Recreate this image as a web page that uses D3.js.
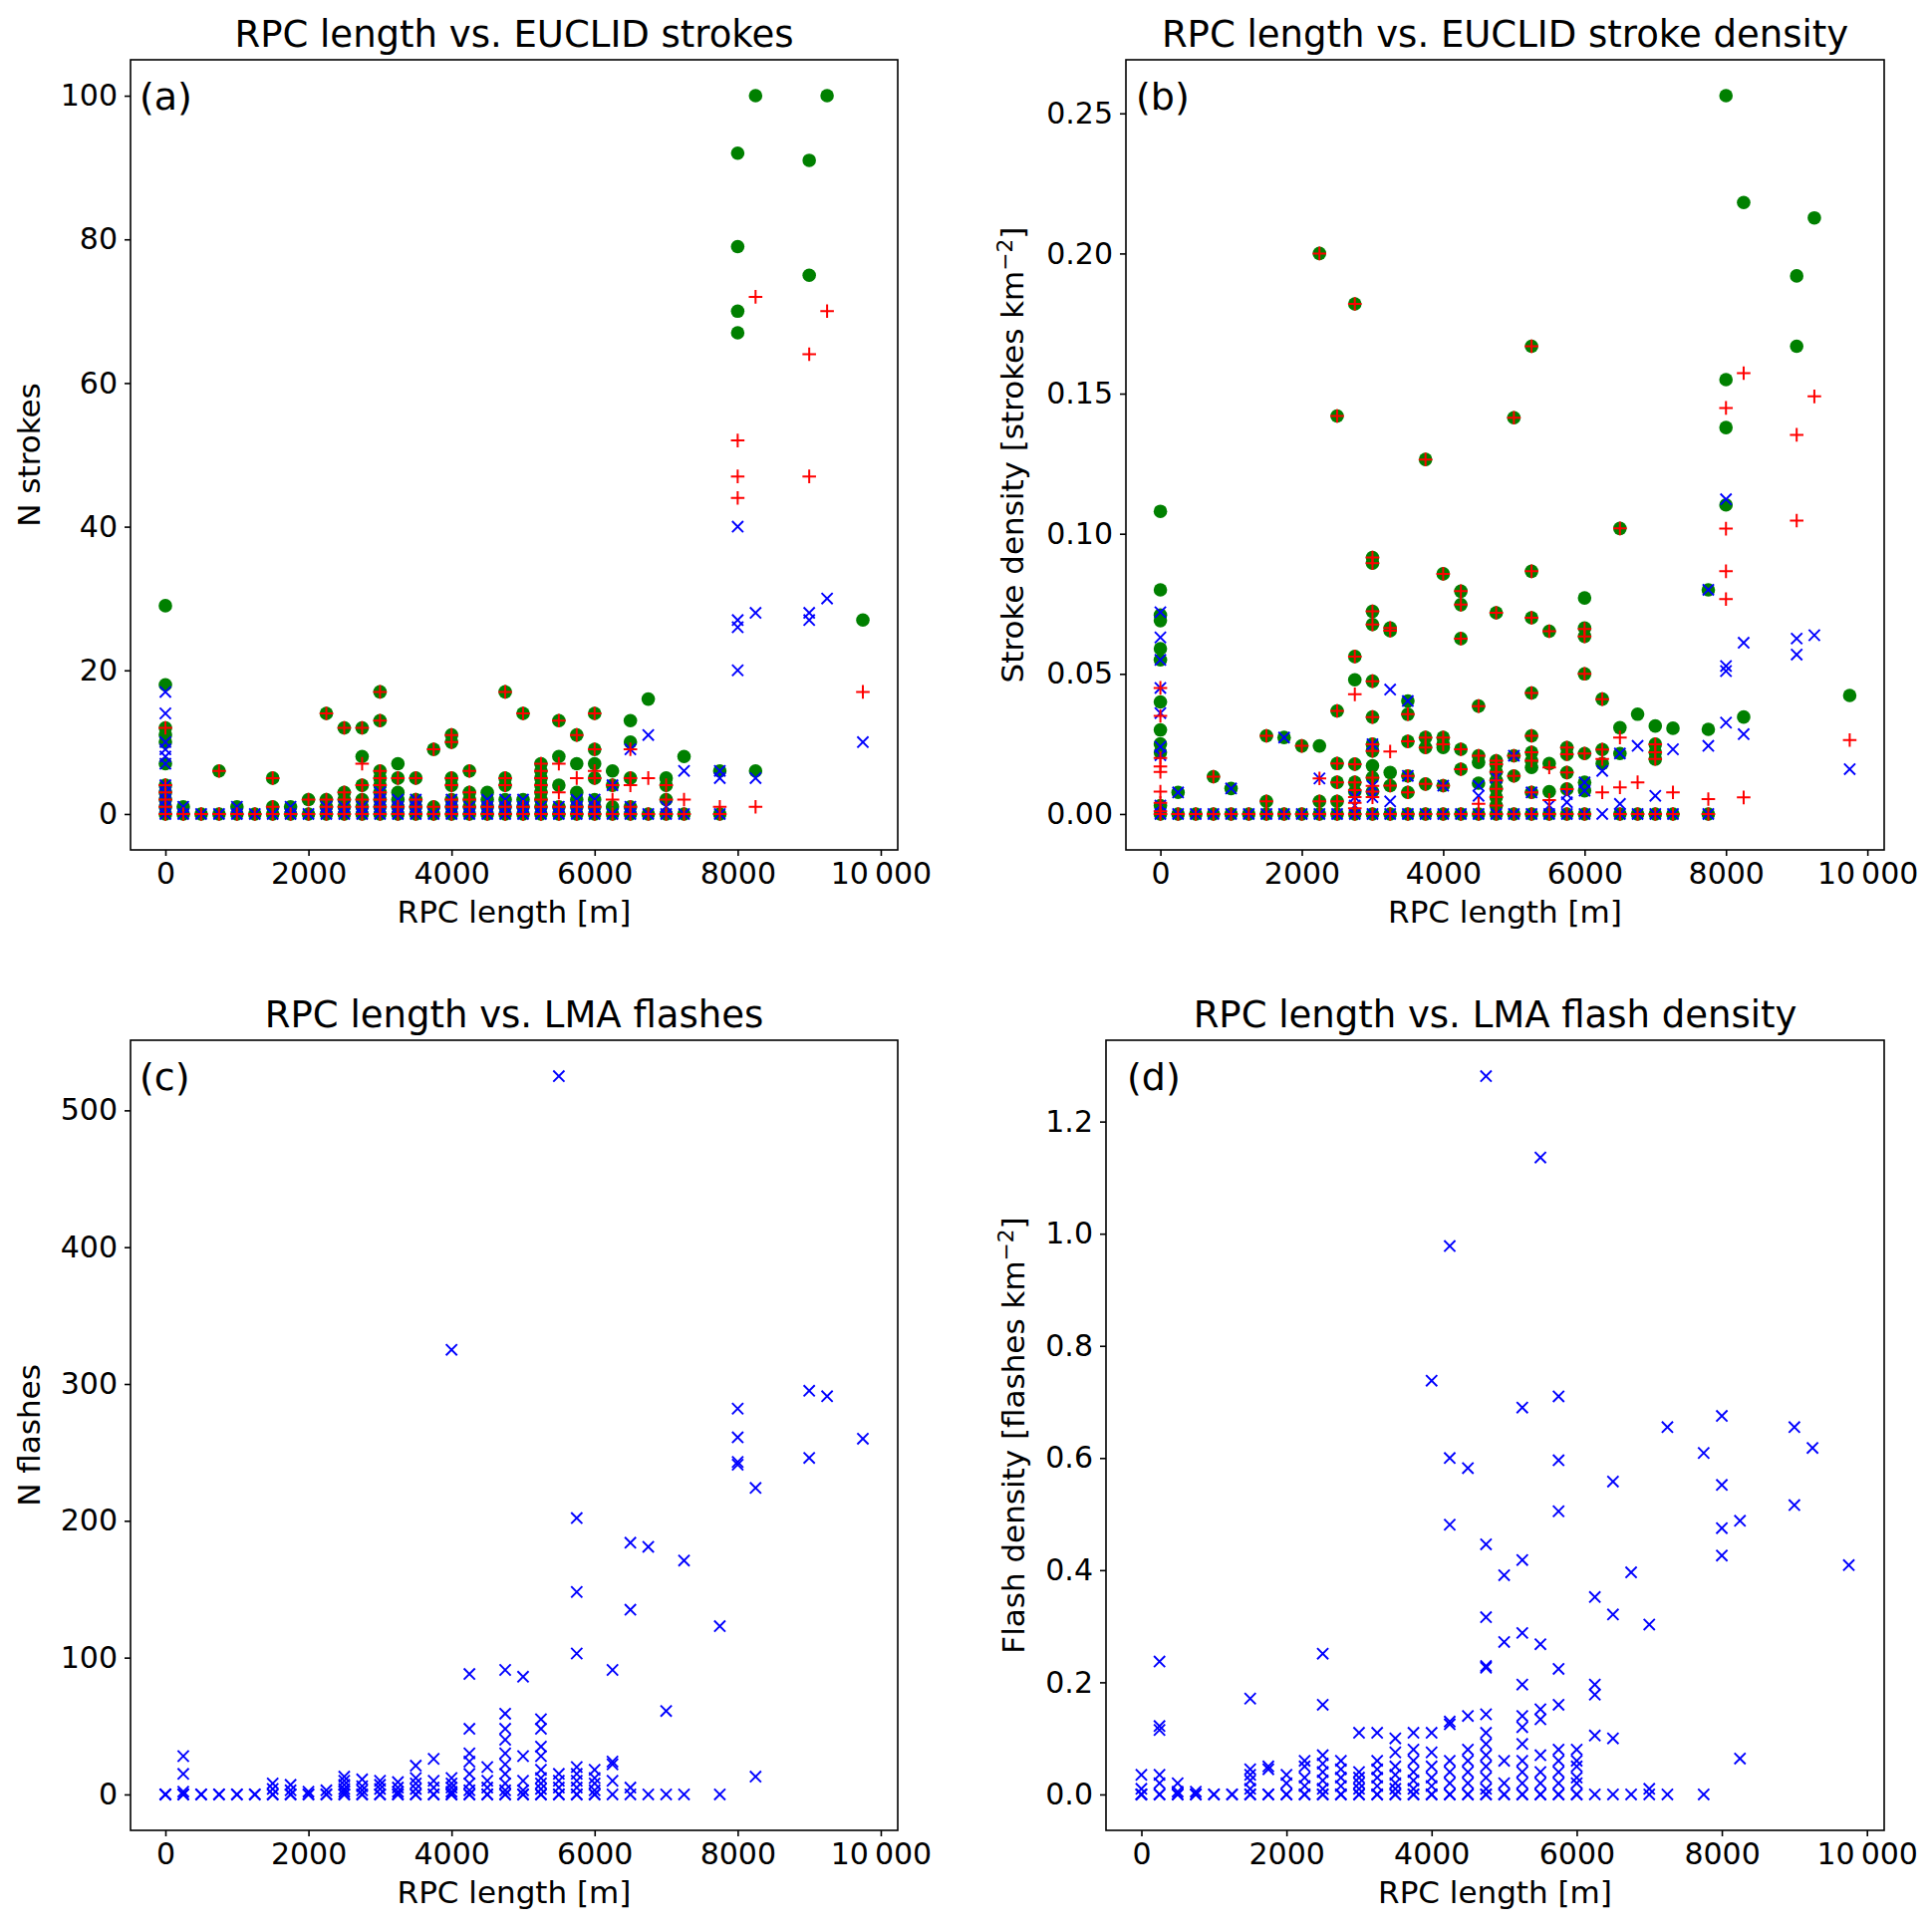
<!DOCTYPE html>
<html>
<head>
<meta charset="utf-8">
<script src="https://cdn.jsdelivr.net/npm/d3@7"></script>
<style>
  html, body { margin: 0; padding: 0; background: #fff; }
  svg { display: block; }
  text { font-family: "DejaVu Sans", sans-serif; fill: #000; }
</style>
</head>
<body>
<svg id="chart" width="1939" height="1935"></svg>
<script>
// ---------------- DATA ----------------
// Each entry: [RPC length (m), value]
// Panel (a): N strokes – total (green), CG (red), IC (blue)
const strokesTotal = [
  [0,29],[0,18],[0,12],[0,11],[0,10],[0,7],[0,4],[0,3],[0,2],[0,1],[0,0],
  [250,1],[250,0],[500,0],[750,6],[750,0],[1000,1],[1000,0],[1250,0],
  [1500,5],[1500,1],[1500,0],[1750,1],[1750,0],[2000,2],[2000,0],
  [2250,14],[2250,2],[2250,1],[2250,0],
  [2500,12],[2500,3],[2500,2],[2500,1],[2500,0],
  [2750,12],[2750,8],[2750,4],[2750,2],[2750,1],[2750,0],
  [3000,17],[3000,13],[3000,6],[3000,5],[3000,4],[3000,3],[3000,2],[3000,1],[3000,0],
  [3250,7],[3250,5],[3250,3],[3250,2],[3250,1],[3250,0],
  [3500,5],[3500,2],[3500,1],[3500,0],
  [3750,9],[3750,1],[3750,0],
  [4000,11],[4000,10],[4000,5],[4000,4],[4000,2],[4000,1],[4000,0],
  [4250,6],[4250,3],[4250,2],[4250,1],[4250,0],
  [4500,3],[4500,2],[4500,1],[4500,0],
  [4750,17],[4750,5],[4750,4],[4750,2],[4750,1],[4750,0],
  [5000,14],[5000,2],[5000,1],[5000,0],
  [5250,7],[5250,6],[5250,5],[5250,4],[5250,3],[5250,2],[5250,1],[5250,0],
  [5500,13],[5500,8],[5500,4],[5500,1],[5500,0],
  [5750,11],[5750,7],[5750,3],[5750,2],[5750,1],[5750,0],
  [6000,14],[6000,9],[6000,7],[6000,5],[6000,2],[6000,1],[6000,0],
  [6250,6],[6250,4],[6250,1],[6250,0],
  [6500,13],[6500,10],[6500,5],[6500,1],[6500,0],
  [6750,16],[6750,0],
  [7000,5],[7000,4],[7000,2],[7000,0],
  [7250,8],[7250,0],
  [7750,6],[7750,0],
  [8000,92],[8000,79],[8000,70],[8000,67],
  [8250,100],[8250,6],
  [9000,91],[9000,75],
  [9250,100],
  [9750,27]
];
const strokesCG = [
  [0,12],[0,4],[0,3],[0,2],[0,1],[0,0],
  [250,0],[500,0],[750,6],[750,0],[1000,0],[1250,0],
  [1500,5],[1500,1],[1500,0],[1750,0],[2000,2],[2000,0],
  [2250,14],[2250,2],[2250,1],[2250,0],
  [2500,12],[2500,3],[2500,2],[2500,1],[2500,0],
  [2750,12],[2750,7],[2750,4],[2750,2],[2750,1],[2750,0],
  [3000,17],[3000,13],[3000,6],[3000,5],[3000,4],[3000,3],[3000,2],[3000,1],[3000,0],
  [3250,5],[3250,1],[3250,0],
  [3500,5],[3500,2],[3500,1],[3500,0],
  [3750,9],[3750,1],[3750,0],
  [4000,11],[4000,10],[4000,5],[4000,4],[4000,2],[4000,1],[4000,0],
  [4250,6],[4250,3],[4250,2],[4250,1],[4250,0],
  [4500,1],[4500,0],
  [4750,17],[4750,5],[4750,4],[4750,1],[4750,0],
  [5000,14],[5000,1],[5000,0],
  [5250,7],[5250,6],[5250,5],[5250,4],[5250,3],[5250,2],[5250,1],[5250,0],
  [5500,13],[5500,7],[5500,3],[5500,1],[5500,0],
  [5750,11],[5750,5],[5750,1],[5750,0],
  [6000,14],[6000,9],[6000,6],[6000,5],[6000,1],[6000,0],
  [6250,4],[6250,2],[6250,0],
  [6500,9],[6500,5],[6500,4],[6500,1],[6500,0],
  [6750,5],[6750,0],
  [7000,4],[7000,2],[7000,0],
  [7250,2],[7250,0],
  [7750,1],[7750,0],
  [8000,52],[8000,47],[8000,44],
  [8250,72],[8250,1],
  [9000,64],[9000,47],
  [9250,70],
  [9750,17]
];
const strokesIC = [
  [0,17],[0,14],[0,10],[0,9],[0,8],[0,7],[0,4],[0,3],[0,2],[0,1],[0,0],
  [250,1],[250,0],[500,0],[750,0],[1000,1],[1000,0],[1250,0],[1500,0],
  [1750,1],[1750,0],[2000,0],[2250,1],[2250,0],[2500,1],[2500,0],[2750,1],[2750,0],
  [3000,3],[3000,2],[3000,1],[3000,0],
  [3250,2],[3250,1],[3250,0],
  [3500,2],[3500,1],[3500,0],
  [3750,0],
  [4000,2],[4000,1],[4000,0],
  [4250,1],[4250,0],
  [4500,2],[4500,1],[4500,0],
  [4750,2],[4750,1],[4750,0],
  [5000,2],[5000,1],[5000,0],
  [5250,1],[5250,0],
  [5500,1],[5500,0],
  [5750,2],[5750,1],[5750,0],
  [6000,2],[6000,1],[6000,0],
  [6250,4],[6250,0],
  [6500,9],[6500,1],[6500,0],
  [6750,11],[6750,0],
  [7000,1],[7000,0],
  [7250,6],[7250,0],
  [7750,6],[7750,5],[7750,0],
  [8000,40],[8000,27],[8000,26],[8000,20],
  [8250,28],[8250,5],
  [9000,28],[9000,27],
  [9250,30],
  [9750,10]
];

// Panel (b): stroke density [strokes km^-2]
const densityTotal = [
  [0,0.108],[0,0.080],[0,0.071],[0,0.069],[0,0.059],[0,0.055],[0,0.040],[0,0.030],[0,0.025],[0,0.022],[0,0.003],[0,0],
  [250,0.0077],[250,0],[500,0],[750,0.0133],[750,0],[1000,0.0091],[1000,0],[1250,0],
  [1500,0.0279],[1500,0.0045],[1500,0],[1750,0.0273],[1750,0],[2000,0.0243],[2000,0],
  [2250,0.200],[2250,0.0243],[2250,0.0045],[2250,0],
  [2500,0.142],[2500,0.0368],[2500,0.018],[2500,0.0113],[2500,0.0045],[2500,0],
  [2750,0.182],[2750,0.0562],[2750,0.0479],[2750,0.0178],[2750,0.0113],[2750,0.008],[2750,0],
  [3000,0.0915],[3000,0.0895],[3000,0.0723],[3000,0.0676],[3000,0.0474],[3000,0.0346],[3000,0.0249],[3000,0.0225],[3000,0.0172],[3000,0.013],[3000,0.008],[3000,0],
  [3250,0.0664],[3250,0.0654],[3250,0.0148],[3250,0.0101],[3250,0],
  [3500,0.0403],[3500,0.0356],[3500,0.0259],[3500,0.0136],[3500,0.0077],[3500,0],
  [3750,0.1265],[3750,0.0273],[3750,0.0237],[3750,0.0107],[3750,0],
  [4000,0.0857],[4000,0.0273],[4000,0.0249],[4000,0.0237],[4000,0.0101],[4000,0],
  [4250,0.0795],[4250,0.0747],[4250,0.0626],[4250,0.0231],[4250,0.016],[4250,0],
  [4500,0.0385],[4500,0.0208],[4500,0.0184],[4500,0.011],[4500,0],
  [4750,0.0718],[4750,0.019],[4750,0.0178],[4750,0.015],[4750,0.012],[4750,0.009],[4750,0.006],[4750,0.003],[4750,0],
  [5000,0.1414],[5000,0.0208],[5000,0.0136],[5000,0],
  [5250,0.1669],[5250,0.0866],[5250,0.0700],[5250,0.0432],[5250,0.0279],[5250,0.022],[5250,0.019],[5250,0.0166],[5250,0.0077],[5250,0],
  [5500,0.0652],[5500,0.018],[5500,0.008],[5500,0],
  [5750,0.0237],[5750,0.0213],[5750,0.0148],[5750,0.0089],[5750,0],
  [6000,0.0771],[6000,0.0664],[6000,0.0634],[6000,0.0500],[6000,0.0216],[6000,0.0113],[6000,0.0083],[6000,0],
  [6250,0.041],[6250,0.023],[6250,0.018],
  [6500,0.1019],[6500,0.0308],[6500,0.0216],[6500,0],
  [6750,0.0356],[6750,0],
  [7000,0.0314],[7000,0.0249],[7000,0.022],[7000,0.0196],[7000,0],
  [7250,0.0306],[7250,0],
  [7750,0.080],[7750,0.0302],[7750,0],
  [8000,0.2563],[8000,0.155],[8000,0.1379],[8000,0.1103],
  [8250,0.2182],[8250,0.0346],
  [9000,0.192],[9000,0.1669],
  [9250,0.2127],
  [9750,0.0423]
];
const densityCG = [
  [0,0.045],[0,0.035],[0,0.020],[0,0.017],[0,0.015],[0,0.008],[0,0.004],[0,0.001],[0,0],
  [250,0],[500,0],[750,0.0133],[750,0],[1000,0],[1250,0],
  [1500,0.0279],[1500,0.0045],[1500,0],[1750,0],[2000,0.0243],[2000,0],
  [2250,0.200],[2250,0.0127],[2250,0.0045],[2250,0],
  [2500,0.142],[2500,0.0368],[2500,0.018],[2500,0.0113],[2500,0.0045],[2500,0],
  [2750,0.182],[2750,0.0562],[2750,0.0427],[2750,0.0178],[2750,0.0113],[2750,0.0085],[2750,0.006],[2750,0.004],[2750,0.002],[2750,0],
  [3000,0.0915],[3000,0.0895],[3000,0.0723],[3000,0.0676],[3000,0.0474],[3000,0.0346],[3000,0.0249],[3000,0.0225],[3000,0.013],[3000,0.010],[3000,0.008],[3000,0.006],[3000,0],
  [3250,0.0664],[3250,0.0654],[3250,0.0223],[3250,0.0101],[3250,0],
  [3500,0.0356],[3500,0.0259],[3500,0.0136],[3500,0.0077],[3500,0],
  [3750,0.1265],[3750,0.0273],[3750,0.0237],[3750,0.0107],[3750,0],
  [4000,0.0857],[4000,0.0273],[4000,0.0249],[4000,0.0101],[4000,0],
  [4250,0.0795],[4250,0.0747],[4250,0.0626],[4250,0.0231],[4250,0.016],[4250,0],
  [4500,0.0385],[4500,0.0208],[4500,0.0036],[4500,0],
  [4750,0.0718],[4750,0.019],[4750,0.0178],[4750,0.015],[4750,0.012],[4750,0.009],[4750,0.006],[4750,0.003],[4750,0],
  [5000,0.1414],[5000,0.0208],[5000,0.0136],[5000,0],
  [5250,0.1669],[5250,0.0866],[5250,0.0700],[5250,0.0432],[5250,0.0279],[5250,0.022],[5250,0.019],[5250,0.0077],[5250,0],
  [5500,0.0652],[5500,0.0166],[5500,0.005],[5500,0],
  [5750,0.0237],[5750,0.0213],[5750,0.0148],[5750,0.0089],[5750,0],
  [6000,0.066],[6000,0.0634],[6000,0.0500],[6000,0.0216],[6000,0],
  [6250,0.041],[6250,0.023],[6250,0.0196],[6250,0.0077],
  [6500,0.1019],[6500,0.0273],[6500,0.0095],[6500,0],
  [6750,0.0113],[6750,0],
  [7000,0.0249],[7000,0.022],[7000,0.0196],[7000,0],
  [7250,0.0077],[7250,0],
  [7750,0.0053],[7750,0],
  [8000,0.1449],[8000,0.1018],[8000,0.0866],[8000,0.0767],
  [8250,0.1573],[8250,0.0059],
  [9000,0.1353],[9000,0.1047],
  [9250,0.149],
  [9750,0.0264]
];
const densityIC = [
  [0,0.072],[0,0.063],[0,0.055],[0,0.045],[0,0.036],[0,0.024],[0,0.021],[0,0.003],[0,0],
  [250,0.0077],[250,0],[500,0],[750,0],[1000,0.0091],[1000,0],[1250,0],[1500,0],
  [1750,0.0273],[1750,0],[2000,0],[2250,0.0127],[2250,0],[2500,0],
  [2750,0.006],[2750,0.003],[2750,0],
  [3000,0.0249],[3000,0.010],[3000,0.006],[3000,0],
  [3250,0.0444],[3250,0.0045],[3250,0],
  [3500,0.0403],[3500,0.0136],[3500,0],
  [3750,0],[4000,0.0101],[4000,0],[4250,0],
  [4500,0.0101],[4500,0.0065],[4500,0],
  [4750,0.013],[4750,0],
  [5000,0.0208],[5000,0],
  [5250,0.0077],[5250,0],
  [5500,0.003],[5500,0],
  [5750,0.0071],[5750,0.0042],[5750,0],
  [6000,0.0113],[6000,0.0083],[6000,0],
  [6250,0.0154],[6250,0],
  [6500,0.0216],[6500,0.0036],[6500,0],
  [6750,0.0243],[6750,0],
  [7000,0.0065],[7000,0],
  [7250,0.0231],[7250,0],
  [7750,0.080],[7750,0.0243],[7750,0],
  [8000,0.1123],[8000,0.0528],[8000,0.051],[8000,0.0326],
  [8250,0.0611],[8250,0.0285],
  [9000,0.0626],[9000,0.0569],
  [9250,0.0638],
  [9750,0.016]
];

// Panel (c): N LMA flashes (repeated zeros = several cases without flashes)
const lmaFlashes = [
  [0,0],[0,0],[0,0],[250,28],[250,15],[250,2],[250,0],[250,0],[500,0],[500,0],[750,0],[750,0],
  [1000,0],[1000,0],[1250,0],[1250,0],
  [1500,8],[1500,4],[1500,0],[1500,0],[1750,7],[1750,3],[1750,0],[1750,0],[2000,2],[2000,0],[2000,0],[2250,3],[2250,0],[2250,0],
  [2500,13],[2500,10],[2500,7],[2500,4],[2500,2],[2500,0],[2500,0],
  [2750,11],[2750,6],[2750,3],[2750,0],[2750,0],
  [3000,10],[3000,7],[3000,4],[3000,0],[3000,0],
  [3250,9],[3250,5],[3250,2],[3250,0],[3250,0],
  [3500,21],[3500,12],[3500,8],[3500,4],[3500,0],[3500,0],
  [3750,26],[3750,10],[3750,5],[3750,0],[3750,0],
  [4000,325],[4000,12],[4000,8],[4000,5],[4000,2],[4000,0],[4000,0],
  [4250,88],[4250,48],[4250,30],[4250,24],[4250,15],[4250,8],[4250,3],[4250,0],[4250,0],
  [4500,20],[4500,10],[4500,5],[4500,0],[4500,0],
  [4750,91],[4750,59],[4750,48],[4750,40],[4750,30],[4750,22],[4750,15],[4750,8],[4750,3],[4750,0],[4750,0],
  [5000,86],[5000,28],[5000,10],[5000,3],[5000,0],[5000,0],
  [5250,55],[5250,48],[5250,35],[5250,28],[5250,18],[5250,12],[5250,8],[5250,4],[5250,0],[5250,0],
  [5500,525],[5500,15],[5500,10],[5500,5],[5500,0],[5500,0],
  [5750,202],[5750,148],[5750,103],[5750,20],[5750,15],[5750,10],[5750,5],[5750,0],[5750,0],
  [6000,18],[6000,12],[6000,8],[6000,3],[6000,0],[6000,0],
  [6250,91],[6250,24],[6250,22],[6250,10],[6250,0],
  [6500,184],[6500,135],[6500,5],[6500,0],
  [6750,181],[6750,0],
  [7000,61],[7000,0],
  [7250,171],[7250,0],
  [7750,123],[7750,0],
  [8000,282],[8000,261],[8000,243],[8000,241],
  [8250,224],[8250,13],
  [9000,295],[9000,246],
  [9250,291],
  [9750,260]
];

// Panel (d): LMA flash density [flashes km^-2]
const lmaDensity = [
  [0,0.035],[0,0.01],[0,0],[0,0],[0,0],
  [250,0.237],[250,0.122],[250,0.115],[250,0.035],[250,0.02],[250,0],[250,0],
  [500,0.02],[500,0.005],[500,0],[500,0],[750,0.005],[750,0],[750,0],[1000,0],[1000,0],[1250,0],[1250,0],
  [1500,0.171],[1500,0.045],[1500,0.035],[1500,0.025],[1500,0.01],[1500,0],[1500,0],
  [1750,0.05],[1750,0.045],[1750,0],[1750,0],
  [2000,0.035],[2000,0.02],[2000,0],[2000,0],
  [2250,0.06],[2250,0.05],[2250,0.03],[2250,0.015],[2250,0],[2250,0],
  [2500,0.251],[2500,0.160],[2500,0.07],[2500,0.055],[2500,0.04],[2500,0.025],[2500,0.01],[2500,0],[2500,0],
  [2750,0.06],[2750,0.045],[2750,0.03],[2750,0.015],[2750,0],[2750,0],
  [3000,0.11],[3000,0.04],[3000,0.03],[3000,0.02],[3000,0.01],[3000,0],[3000,0],
  [3250,0.11],[3250,0.06],[3250,0.045],[3250,0.03],[3250,0.015],[3250,0],[3250,0],
  [3500,0.1],[3500,0.075],[3500,0.05],[3500,0.035],[3500,0.02],[3500,0.01],[3500,0],[3500,0],
  [3750,0.11],[3750,0.08],[3750,0.06],[3750,0.04],[3750,0.025],[3750,0.01],[3750,0],[3750,0],
  [4000,0.738],[4000,0.11],[4000,0.075],[4000,0.05],[4000,0.03],[4000,0.015],[4000,0],[4000,0],
  [4250,0.978],[4250,0.600],[4250,0.481],[4250,0.13],[4250,0.125],[4250,0.06],[4250,0.04],[4250,0.02],[4250,0],[4250,0],
  [4500,0.582],[4500,0.14],[4500,0.08],[4500,0.06],[4500,0.04],[4500,0.02],[4500,0],[4500,0],
  [4750,1.281],[4750,0.446],[4750,0.316],[4750,0.229],[4750,0.226],[4750,0.143],[4750,0.11],[4750,0.09],[4750,0.07],[4750,0.05],[4750,0.03],[4750,0.01],[4750,0],[4750,0],
  [5000,0.391],[5000,0.272],[5000,0.06],[5000,0.02],[5000,0],[5000,0],
  [5250,0.690],[5250,0.418],[5250,0.288],[5250,0.196],[5250,0.14],[5250,0.12],[5250,0.09],[5250,0.06],[5250,0.04],[5250,0.02],[5250,0],[5250,0],
  [5500,1.136],[5500,0.268],[5500,0.152],[5500,0.134],[5500,0.07],[5500,0.04],[5500,0.02],[5500,0],[5500,0],
  [5750,0.710],[5750,0.596],[5750,0.505],[5750,0.224],[5750,0.160],[5750,0.08],[5750,0.06],[5750,0.04],[5750,0.02],[5750,0],[5750,0],
  [6000,0.08],[6000,0.06],[6000,0.05],[6000,0.03],[6000,0.02],[6000,0],[6000,0],
  [6250,0.352],[6250,0.196],[6250,0.178],[6250,0.105],[6250,0],
  [6500,0.558],[6500,0.321],[6500,0.1],[6500,0],
  [6750,0.396],[6750,0],
  [7000,0.303],[7000,0.01],[7000,0],
  [7250,0.655],[7250,0],
  [7750,0.609],[7750,0],
  [8000,0.675],[8000,0.552],[8000,0.475],[8000,0.426],
  [8250,0.488],[8250,0.064],
  [9000,0.655],[9000,0.516],
  [9250,0.618],
  [9750,0.409]
];

// Tick values and labels
const xTickValues = [0, 2000, 4000, 6000, 8000, 10000];
const xTickLabels = ["0", "2000", "4000", "6000", "8000", "10\u2009000"];
const yTicksA = [0, 20, 40, 60, 80, 100];
const yTicksB = [0, 0.05, 0.10, 0.15, 0.20, 0.25];
const yTicksC = [0, 100, 200, 300, 400, 500];
const yTicksD = [0, 0.2, 0.4, 0.6, 0.8, 1.0, 1.2];

// ---------------- DRAWING ----------------
const svg = d3.select("#chart");
const COLORS = { green: "#008000", red: "#ff0000", blue: "#0000ff" };

const panels = [
  { box: {l:131, r:901, t:60, b:853}, title: "RPC length vs. EUCLID strokes", tag: "(a)", tagDx: 9,
    yTicks: yTicksA, yFmt: d3.format("d"), ylabel: ["N strokes"], ylabelX: 40,
    series: [[strokesTotal,"circle"],[strokesIC,"x"],[strokesCG,"plus"]] },
  { box: {l:1130, r:1891, t:60, b:853}, title: "RPC length vs. EUCLID stroke density", tag: "(b)", tagDx: 10,
    yTicks: yTicksB, yFmt: d3.format(".2f"), ylabel: ["Stroke density [strokes km", "\u22122", "]"], ylabelX: 1027,
    series: [[densityTotal,"circle"],[densityIC,"x"],[densityCG,"plus"]] },
  { box: {l:131, r:901, t:1044, b:1837}, title: "RPC length vs. LMA flashes", tag: "(c)", tagDx: 9,
    yTicks: yTicksC, yFmt: d3.format("d"), ylabel: ["N flashes"], ylabelX: 40,
    series: [[lmaFlashes,"x"]] },
  { box: {l:1110, r:1891, t:1044, b:1837}, title: "RPC length vs. LMA flash density", tag: "(d)", tagDx: 21,
    yTicks: yTicksD, yFmt: d3.format(".1f"), ylabel: ["Flash density [flashes km", "\u22122", "]"], ylabelX: 1028,
    series: [[lmaDensity,"x"]] }
];

const TICK_FS = 30, LABEL_FS = 31, TITLE_FS = 37, TAG_FS = 38;
const M = 6.8; // marker half-size

function padded(ext) {
  const span = ext[1] - ext[0];
  return [ext[0] - 0.05 * span, ext[1] + 0.05 * span];
}

panels.forEach(p => {
  const {l, r, t, b} = p.box;
  const allPts = p.series.flatMap(s => s[0]);
  const x = d3.scaleLinear().domain(padded(d3.extent(allPts, d => d[0]))).range([l, r]);
  const y = d3.scaleLinear().domain(padded(d3.extent(allPts, d => d[1]))).range([b, t]);

  const g = svg.append("g");
  const clipId = "clip" + p.tag.replace(/[()]/g, "");
  svg.append("clipPath").attr("id", clipId).append("rect")
    .attr("x", l).attr("y", t).attr("width", r - l).attr("height", b - t);

  const marks = g.append("g").attr("clip-path", `url(#${clipId})`);
  p.series.forEach(([pts, kind]) => {
    const sg = marks.append("g");
    if (kind === "circle") {
      sg.selectAll("circle").data(pts).join("circle")
        .attr("cx", d => x(d[0])).attr("cy", d => y(d[1])).attr("r", M)
        .attr("fill", COLORS.green);
    } else if (kind === "plus") {
      sg.selectAll("path").data(pts).join("path")
        .attr("d", d => { const cx = x(d[0]), cy = y(d[1]);
          return `M${cx - M},${cy}H${cx + M}M${cx},${cy - M}V${cy + M}`; })
        .attr("stroke", COLORS.red).attr("stroke-width", 2).attr("fill", "none");
    } else {
      const h = M * 0.82;
      sg.selectAll("path").data(pts).join("path")
        .attr("d", d => { const cx = x(d[0]), cy = y(d[1]);
          return `M${cx - h},${cy - h}L${cx + h},${cy + h}M${cx - h},${cy + h}L${cx + h},${cy - h}`; })
        .attr("stroke", COLORS.blue).attr("stroke-width", 1.9).attr("fill", "none");
    }
  });

  // axes
  const xAxis = d3.axisBottom(x).tickValues(xTickValues)
    .tickFormat((d, i) => xTickLabels[i]).tickSize(6).tickPadding(7);
  const yAxis = d3.axisLeft(y).tickValues(p.yTicks).tickFormat(p.yFmt).tickSize(6).tickPadding(7);
  const gx = g.append("g").attr("transform", `translate(0,${b})`).call(xAxis);
  const gy = g.append("g").attr("transform", `translate(${l},0)`).call(yAxis);
  [gx, gy].forEach(ax => {
    ax.select(".domain").remove();
    ax.selectAll(".tick line").attr("stroke", "#000").attr("stroke-width", 1.6);
    ax.selectAll(".tick text").attr("font-family", "DejaVu Sans").attr("font-size", TICK_FS).attr("fill", "#000");
  });

  // frame
  g.append("rect").attr("x", l).attr("y", t).attr("width", r - l).attr("height", b - t)
    .attr("fill", "none").attr("stroke", "#000").attr("stroke-width", 1.6);

  // title
  g.append("text").attr("x", (l + r) / 2).attr("y", t - 13).attr("text-anchor", "middle")
    .attr("font-size", TITLE_FS).text(p.title);

  // x label
  g.append("text").attr("x", (l + r) / 2).attr("y", b + 73).attr("text-anchor", "middle")
    .attr("font-size", LABEL_FS).text("RPC length [m]");

  // y label
  const yl = g.append("text").attr("transform", `translate(${p.ylabelX},${(t + b) / 2}) rotate(-90)`)
    .attr("text-anchor", "middle").attr("font-size", LABEL_FS);
  yl.append("tspan").text(p.ylabel[0]);
  if (p.ylabel.length > 1) {
    yl.append("tspan").attr("dy", -11).attr("font-size", LABEL_FS * 0.7).text(p.ylabel[1]);
    yl.append("tspan").attr("dy", 11).text(p.ylabel[2]);
  }

  // panel tag
  g.append("text").attr("x", l + p.tagDx).attr("y", t + 50)
    .attr("font-family", "Liberation Sans, Arial, sans-serif").attr("font-size", TAG_FS).text(p.tag);
});
</script>
</body>
</html>
